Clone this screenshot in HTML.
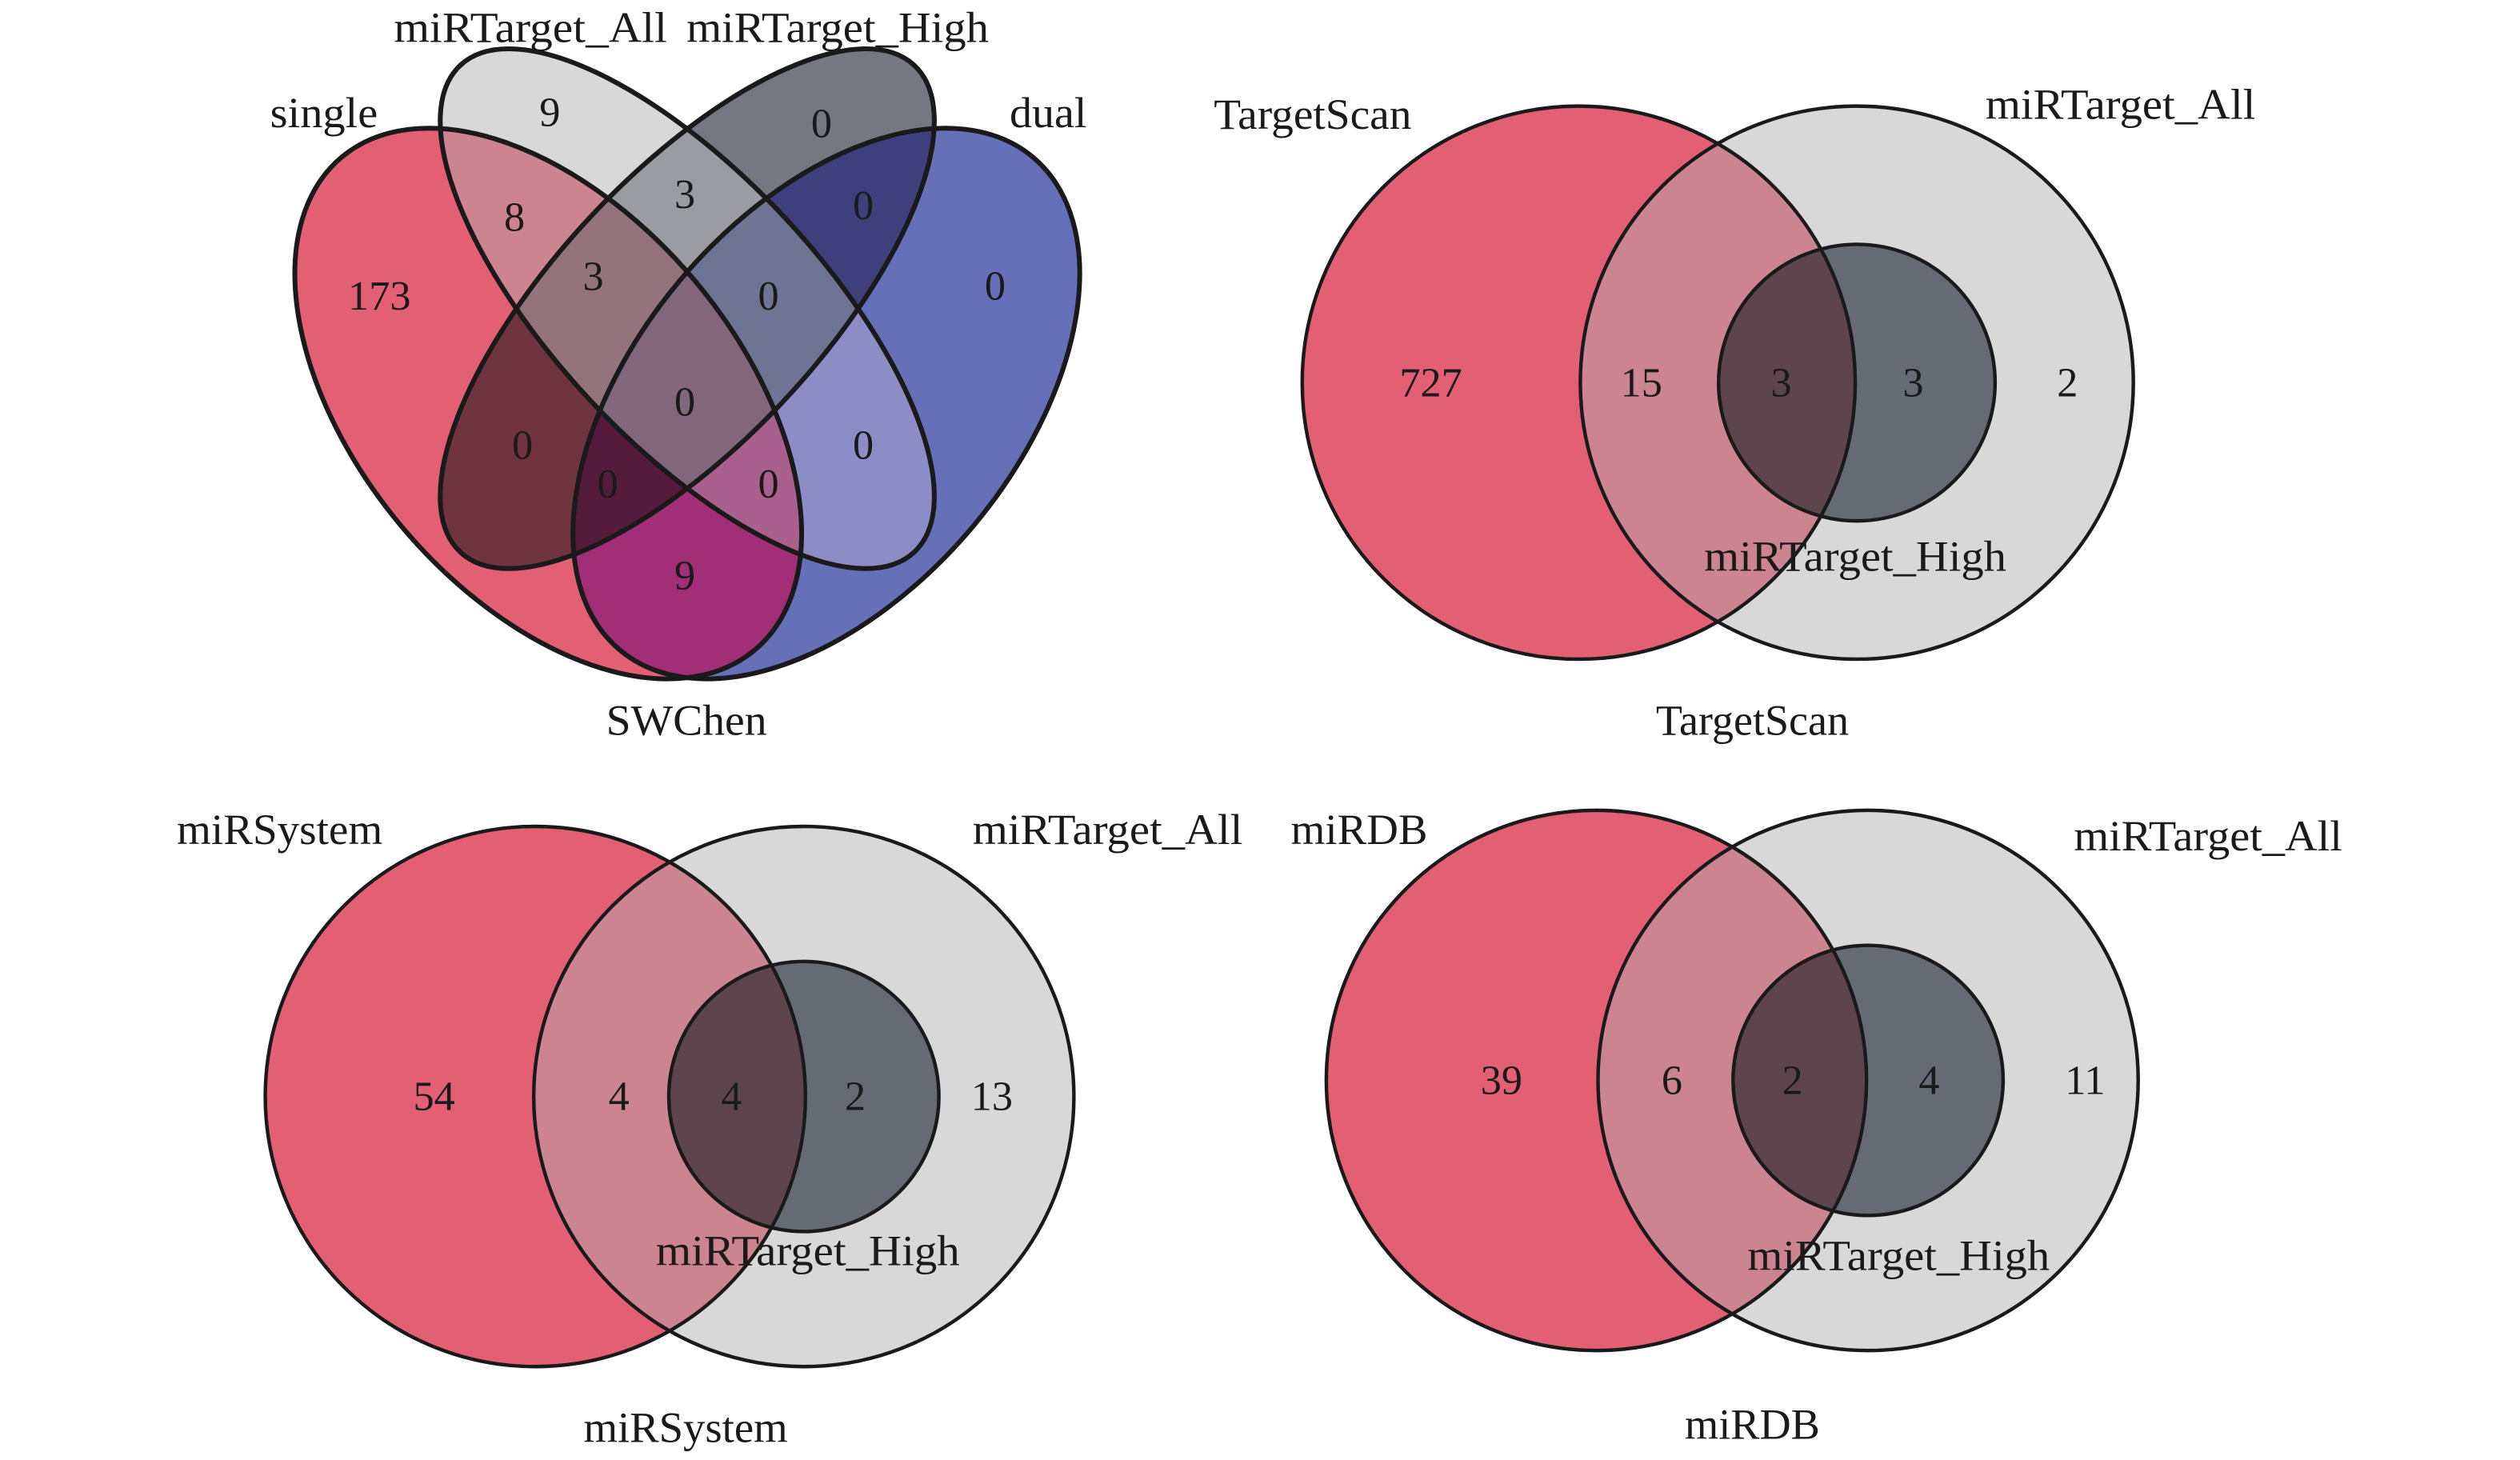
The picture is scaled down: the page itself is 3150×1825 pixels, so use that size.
<!DOCTYPE html>
<html><head><meta charset="utf-8"><style>
html,body{margin:0;padding:0;background:#fff;}
svg{display:block;}
text{font-family:"Liberation Serif",serif;fill:#1a1a1a;}
.n{font-size:26px;text-anchor:middle;dominant-baseline:central;}
.l{font-size:27px;}
</style></head><body>
<svg width="3150" height="1825" viewBox="0 0 1567.5 908.1" preserveAspectRatio="none" xmlns="http://www.w3.org/2000/svg">
<defs>
<clipPath id="cR"><ellipse cx="0" cy="0" rx="200" ry="119" transform="translate(341,251) rotate(50)"/></clipPath>
<clipPath id="cB"><ellipse cx="0" cy="0" rx="200" ry="119" transform="translate(514,251) rotate(-50)"/></clipPath>
<clipPath id="cA"><ellipse cx="0" cy="0" rx="207" ry="83" transform="translate(427.5,192) rotate(47)"/></clipPath>
<clipPath id="cH"><ellipse cx="0" cy="0" rx="207" ry="83" transform="translate(427.5,192) rotate(-47)"/></clipPath>
<clipPath id="t1"><circle cx="982" cy="238" r="172"/></clipPath>
<clipPath id="b1"><circle cx="333" cy="682" r="168"/></clipPath>
<clipPath id="d1"><circle cx="993" cy="672" r="168"/></clipPath>
</defs>
<rect width="1600" height="920" fill="#fff"/>

<g>
<g clip-path="url(#cR)"><rect width="900" height="460" fill="#e25f74"/></g>
<g clip-path="url(#cB)"><rect width="900" height="460" fill="#6670b8"/></g>
<g clip-path="url(#cA)"><rect width="900" height="460" fill="#d8d8d8"/></g>
<g clip-path="url(#cH)"><rect width="900" height="460" fill="#757880"/></g>
<g clip-path="url(#cR)"><g clip-path="url(#cA)"><rect width="900" height="460" fill="#cc8490"/></g></g>
<g clip-path="url(#cR)"><g clip-path="url(#cH)"><rect width="900" height="460" fill="#6f3440"/></g></g>
<g clip-path="url(#cR)"><g clip-path="url(#cB)"><rect width="900" height="460" fill="#a32e78"/></g></g>
<g clip-path="url(#cA)"><g clip-path="url(#cH)"><rect width="900" height="460" fill="#9a9ca2"/></g></g>
<g clip-path="url(#cA)"><g clip-path="url(#cB)"><rect width="900" height="460" fill="#8e8cc6"/></g></g>
<g clip-path="url(#cH)"><g clip-path="url(#cB)"><rect width="900" height="460" fill="#3f3f7e"/></g></g>
<g clip-path="url(#cR)"><g clip-path="url(#cA)"><g clip-path="url(#cH)"><rect width="900" height="460" fill="#93737c"/></g></g></g>
<g clip-path="url(#cR)"><g clip-path="url(#cA)"><g clip-path="url(#cB)"><rect width="900" height="460" fill="#a9608f"/></g></g></g>
<g clip-path="url(#cR)"><g clip-path="url(#cH)"><g clip-path="url(#cB)"><rect width="900" height="460" fill="#541b3c"/></g></g></g>
<g clip-path="url(#cA)"><g clip-path="url(#cH)"><g clip-path="url(#cB)"><rect width="900" height="460" fill="#6f7394"/></g></g></g>
<g clip-path="url(#cR)"><g clip-path="url(#cA)"><g clip-path="url(#cH)"><g clip-path="url(#cB)"><rect width="900" height="460" fill="#81667c"/></g></g></g></g>
<g fill="none" stroke="#1a1a1a" stroke-width="3">
<ellipse cx="0" cy="0" rx="200" ry="119" transform="translate(341,251) rotate(50)"/>
<ellipse cx="0" cy="0" rx="200" ry="119" transform="translate(514,251) rotate(-50)"/>
<ellipse cx="0" cy="0" rx="207" ry="83" transform="translate(427.5,192) rotate(47)"/>
<ellipse cx="0" cy="0" rx="207" ry="83" transform="translate(427.5,192) rotate(-47)"/>
</g>
<text class="n" x="342" y="70">9</text>
<text class="n" x="511" y="77">0</text>
<text class="n" x="426" y="121">3</text>
<text class="n" x="320" y="135">8</text>
<text class="n" x="537" y="128">0</text>
<text class="n" x="236" y="184">173</text>
<text class="n" x="369" y="172">3</text>
<text class="n" x="478" y="184">0</text>
<text class="n" x="619" y="178">0</text>
<text class="n" x="426" y="250">0</text>
<text class="n" x="325" y="277">0</text>
<text class="n" x="537" y="277">0</text>
<text class="n" x="378" y="301">0</text>
<text class="n" x="478" y="301">0</text>
<text class="n" x="426" y="358">9</text>
<text class="l" x="168" y="79" textLength="67" lengthAdjust="spacingAndGlyphs">single</text>
<text class="l" x="245" y="26" textLength="170" lengthAdjust="spacingAndGlyphs">miRTarget_All</text>
<text class="l" x="427" y="26" textLength="188" lengthAdjust="spacingAndGlyphs">miRTarget_High</text>
<text class="l" x="628" y="79" textLength="48" lengthAdjust="spacingAndGlyphs">dual</text>
<text class="l" x="377" y="457" textLength="100" lengthAdjust="spacingAndGlyphs">SWChen</text>
</g>

<g>
<circle cx="982" cy="238" r="172" fill="#e25f74"/>
<circle cx="1155" cy="238" r="172" fill="#d8d8d8"/>
<g clip-path="url(#t1)"><circle cx="1155" cy="238" r="172" fill="#cc8490"/></g>
<circle cx="1155" cy="238" r="86" fill="#666a72"/>
<g clip-path="url(#t1)"><circle cx="1155" cy="238" r="86" fill="#5e454d"/></g>
<g fill="none" stroke="#1a1a1a" stroke-width="2.2">
<circle cx="982" cy="238" r="172"/><circle cx="1155" cy="238" r="172"/><circle cx="1155" cy="238" r="86"/>
</g>
<text class="n" x="890" y="238">727</text>
<text class="n" x="1021" y="238">15</text>
<text class="n" x="1108" y="238">3</text>
<text class="n" x="1190" y="238">3</text>
<text class="n" x="1286" y="238">2</text>
<text class="l" x="755" y="80" textLength="123" lengthAdjust="spacingAndGlyphs">TargetScan</text>
<text class="l" x="1235" y="74" textLength="168" lengthAdjust="spacingAndGlyphs">miRTarget_All</text>
<text class="l" x="1060" y="355" textLength="188" lengthAdjust="spacingAndGlyphs">miRTarget_High</text>
<text class="l" x="1030" y="457" textLength="120" lengthAdjust="spacingAndGlyphs">TargetScan</text>
</g>

<g>
<circle cx="333" cy="682" r="168" fill="#e25f74"/>
<circle cx="500" cy="682" r="168" fill="#d8d8d8"/>
<g clip-path="url(#b1)"><circle cx="500" cy="682" r="168" fill="#cc8490"/></g>
<circle cx="500" cy="682" r="84" fill="#666a72"/>
<g clip-path="url(#b1)"><circle cx="500" cy="682" r="84" fill="#5e454d"/></g>
<g fill="none" stroke="#1a1a1a" stroke-width="2.2">
<circle cx="333" cy="682" r="168"/><circle cx="500" cy="682" r="168"/><circle cx="500" cy="682" r="84"/>
</g>
<text class="n" x="270" y="682">54</text>
<text class="n" x="385" y="682">4</text>
<text class="n" x="455" y="682">4</text>
<text class="n" x="532" y="682">2</text>
<text class="n" x="617" y="682">13</text>
<text class="l" x="110" y="525" textLength="128" lengthAdjust="spacingAndGlyphs">miRSystem</text>
<text class="l" x="605" y="525" textLength="168" lengthAdjust="spacingAndGlyphs">miRTarget_All</text>
<text class="l" x="408" y="787" textLength="189" lengthAdjust="spacingAndGlyphs">miRTarget_High</text>
<text class="l" x="363" y="897" textLength="127" lengthAdjust="spacingAndGlyphs">miRSystem</text>
</g>

<g>
<circle cx="993" cy="672" r="168" fill="#e25f74"/>
<circle cx="1162" cy="672" r="168" fill="#d8d8d8"/>
<g clip-path="url(#d1)"><circle cx="1162" cy="672" r="168" fill="#cc8490"/></g>
<circle cx="1162" cy="672" r="84" fill="#666a72"/>
<g clip-path="url(#d1)"><circle cx="1162" cy="672" r="84" fill="#5e454d"/></g>
<g fill="none" stroke="#1a1a1a" stroke-width="2.2">
<circle cx="993" cy="672" r="168"/><circle cx="1162" cy="672" r="168"/><circle cx="1162" cy="672" r="84"/>
</g>
<text class="n" x="934" y="672">39</text>
<text class="n" x="1040" y="672">6</text>
<text class="n" x="1115" y="672">2</text>
<text class="n" x="1200" y="672">4</text>
<text class="n" x="1297" y="672">11</text>
<text class="l" x="803" y="525" textLength="85" lengthAdjust="spacingAndGlyphs">miRDB</text>
<text class="l" x="1290" y="529" textLength="167" lengthAdjust="spacingAndGlyphs">miRTarget_All</text>
<text class="l" x="1087" y="790" textLength="188" lengthAdjust="spacingAndGlyphs">miRTarget_High</text>
<text class="l" x="1048" y="895" textLength="84" lengthAdjust="spacingAndGlyphs">miRDB</text>
</g>
</svg>
</body></html>
